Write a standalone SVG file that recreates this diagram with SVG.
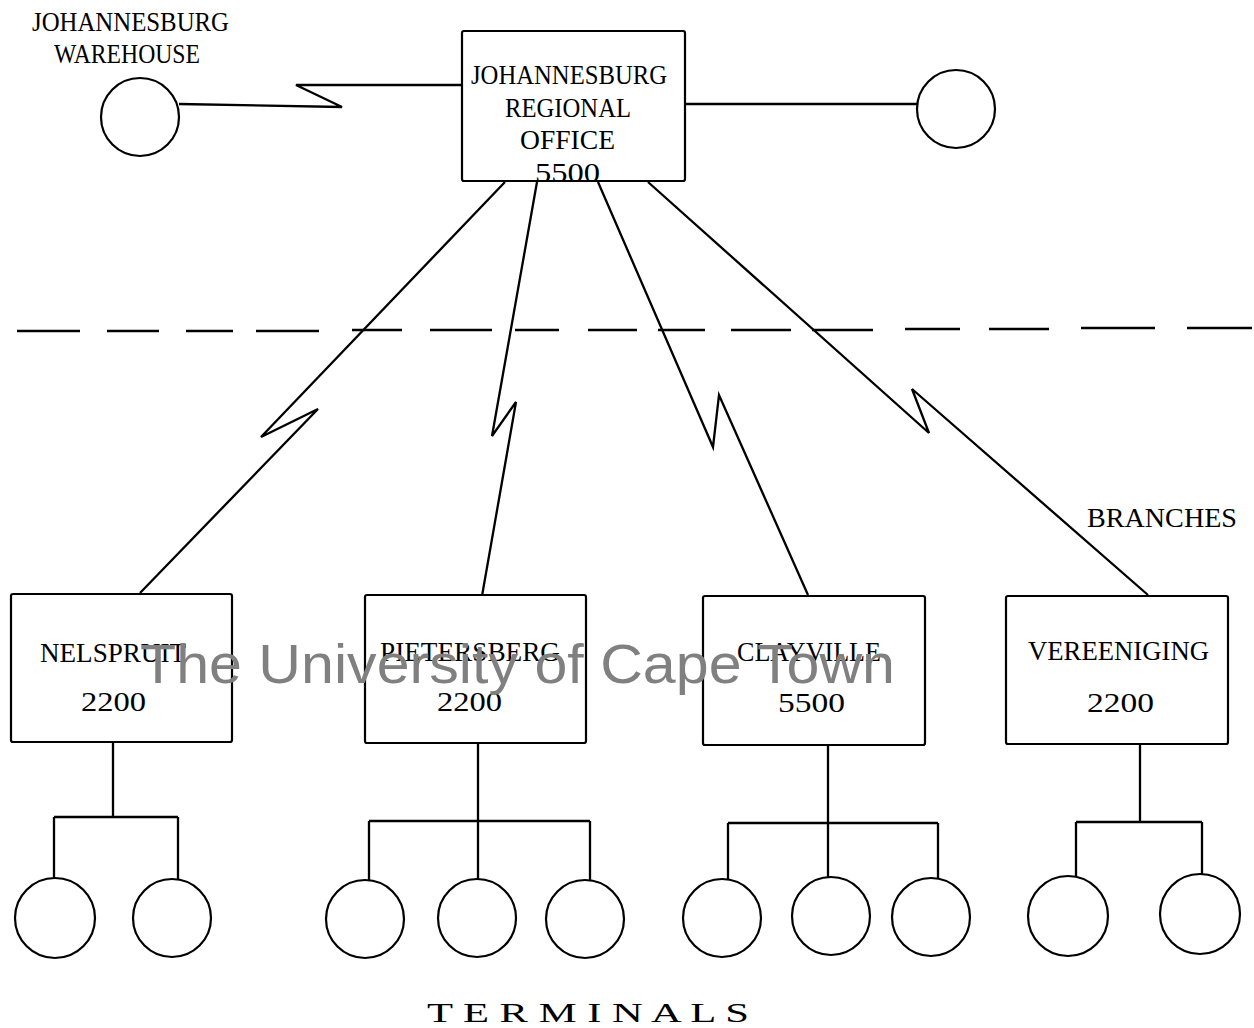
<svg xmlns="http://www.w3.org/2000/svg" width="1254" height="1028" viewBox="0 0 1254 1028">
<style>
.ln{fill:none;stroke:#000;stroke-width:2.3;stroke-linejoin:miter}
.box{fill:#fff;stroke:#000;stroke-width:2.2}
.cir{fill:#fff;stroke:#000;stroke-width:2.2}
.t{font-family:"Liberation Serif","DejaVu Serif",serif;font-size:28px;fill:#000}
.m{font-family:"Liberation Serif","DejaVu Serif",serif;font-size:27px;fill:#000}
.wm{font-family:"Liberation Sans",Arial,sans-serif;font-size:56px;fill:#808080}
</style>
<rect width="1254" height="1028" fill="#fff"/>
<g id="connectors">
<path class="ln" d="M179,104 L342,107 L296,85 L462,85"/>
<path class="ln" d="M685,104 L918,104"/>
<path class="ln" d="M505,182 L261,437 L318,409 L140,593"/>
<path class="ln" d="M537,182 L492,436 L516,402 L482,596"/>
<path class="ln" d="M598,182 L713,447 L719,395 L808,595"/>
<path class="ln" d="M648,182 L929,433 L912,389 L1148,595"/>
<path class="ln" d="M17,331H80M107,331H159M186,331H233M256,331H319M352,330H402M430,330H492M515,330H559M588,330H637M658,330H705M731,330H791M812,330H873M905,329H960M989,329H1049M1081,328H1155M1187,328H1252"/>
<path class="ln" d="M113,742V817M54,817H178M54,817V878M178,817V880"/>
<path class="ln" d="M478,743V821M369,821H590M369,821V881M478,821V879M590,821V881"/>
<path class="ln" d="M828,745V823M728,823H938M728,823V880M828,823V877M938,823V879"/>
<path class="ln" d="M1140,744V822M1076,822H1202M1076,822V877M1202,822V875"/>
</g>
<g id="warehouse">
<circle class="cir" cx="140" cy="117" r="39"/>
<text class="t" x="32" y="31" textLength="197" lengthAdjust="spacingAndGlyphs">JOHANNESBURG</text>
<text class="t" x="54" y="63" textLength="146" lengthAdjust="spacingAndGlyphs">WAREHOUSE</text>
</g>
<g id="regional-office">
<rect class="box" x="462" y="31" width="223" height="150" rx="2"/>
<text class="t" x="471" y="84" textLength="196" lengthAdjust="spacingAndGlyphs">JOHANNESBURG</text>
<text class="t" x="505" y="117" textLength="126" lengthAdjust="spacingAndGlyphs">REGIONAL</text>
<text class="t" x="520" y="149" textLength="95" lengthAdjust="spacingAndGlyphs">OFFICE</text>
<text class="t" x="535" y="182" textLength="65" lengthAdjust="spacingAndGlyphs">5500</text>
</g>
<g id="terminal-right">
<circle class="cir" cx="956" cy="109" r="39"/>
</g>
<g id="nelspruit">
<rect class="box" x="11" y="594" width="221" height="148" rx="2"/>
<text class="t" x="40" y="662" textLength="146" lengthAdjust="spacingAndGlyphs">NELSPRUIT</text>
<text class="t" x="81" y="711" textLength="65" lengthAdjust="spacingAndGlyphs">2200</text>
</g>
<g id="pietersberg">
<rect class="box" x="365" y="595" width="221" height="148" rx="2"/>
<text class="t" x="380" y="661" textLength="180" lengthAdjust="spacingAndGlyphs">PIETERSBERG</text>
<text class="t" x="437" y="711" textLength="65" lengthAdjust="spacingAndGlyphs">2200</text>
</g>
<g id="clayville">
<rect class="box" x="703" y="596" width="222" height="149" rx="2"/>
<text class="t" x="737" y="661" textLength="144" lengthAdjust="spacingAndGlyphs">CLAYVILLE</text>
<text class="t" x="778" y="712" textLength="67" lengthAdjust="spacingAndGlyphs">5500</text>
</g>
<g id="vereeniging">
<rect class="box" x="1006" y="596" width="222" height="148" rx="2"/>
<text class="t" x="1028" y="660" textLength="181" lengthAdjust="spacingAndGlyphs">VEREENIGING</text>
<text class="t" x="1087" y="712" textLength="67" lengthAdjust="spacingAndGlyphs">2200</text>
</g>
<g id="terminals">
<circle class="cir" cx="55" cy="918" r="40"/>
<circle class="cir" cx="172" cy="918" r="39"/>
<circle class="cir" cx="365" cy="919" r="39"/>
<circle class="cir" cx="477" cy="918" r="39"/>
<circle class="cir" cx="585" cy="919" r="39"/>
<circle class="cir" cx="722" cy="918" r="39"/>
<circle class="cir" cx="831" cy="916" r="39"/>
<circle class="cir" cx="931" cy="917" r="39"/>
<circle class="cir" cx="1068" cy="916" r="40"/>
<circle class="cir" cx="1200" cy="914" r="40"/>
</g>
<g id="labels">
<text class="m" x="1087" y="527" textLength="150" lengthAdjust="spacingAndGlyphs">BRANCHES</text>
<text class="m" x="427" y="1022" textLength="322" lengthAdjust="spacingAndGlyphs">T E R M I N A L S</text>
</g>
<text class="wm" x="140" y="683" textLength="755" lengthAdjust="spacingAndGlyphs">The University of Cape Town</text>
</svg>
